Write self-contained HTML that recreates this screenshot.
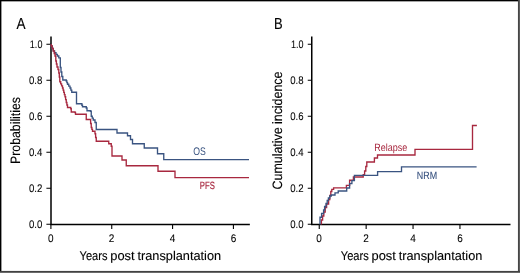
<!DOCTYPE html>
<html lang="en"><head><meta charset="utf-8"><title>Figure</title>
<style>html,body{margin:0;padding:0;background:#fff;}body{width:520px;height:273px;overflow:hidden;}svg{display:block;}text{font-family:"Liberation Sans",sans-serif;text-rendering:geometricPrecision;}</style></head><body>
<svg width="520" height="273" viewBox="0 0 520 273">
<rect x="0" y="0" width="520" height="273" fill="#fff"/>
<rect x="0" y="0" width="520" height="1.35" fill="#000"/>
<rect x="0" y="0" width="1.4" height="273" fill="#000"/>
<rect x="517.95" y="0" width="1.05" height="273" fill="#464646"/>
<rect x="519" y="0" width="1" height="273" fill="#5e5e5e"/>
<rect x="0" y="270.93" width="520" height="1.07" fill="#424242"/>
<rect x="0" y="272" width="520" height="1" fill="#6a6a6a"/>
<g stroke="#000" fill="none">
<path stroke-width="1.5" d="M51.0,36.5 V224.45 H249.85"/>
<path stroke-width="1.1" d="M46.40,44.25 H51.0M46.40,80.25 H51.0M46.40,116.25 H51.0M46.40,152.25 H51.0M46.40,188.25 H51.0M46.40,224.25 H51.0M50.90,224.45 V228.9M111.74,224.45 V228.9M172.58,224.45 V228.9M233.42,224.45 V228.9"/>
</g>
<text transform="translate(42.40,48.20) scale(0.82,1)" font-size="11" text-anchor="end" fill="#000" stroke="#000" stroke-width="0.06">1.0</text>
<text transform="translate(42.40,84.20) scale(0.875,1)" font-size="11" text-anchor="end" fill="#000" stroke="#000" stroke-width="0.06">0.8</text>
<text transform="translate(42.40,120.20) scale(0.875,1)" font-size="11" text-anchor="end" fill="#000" stroke="#000" stroke-width="0.06">0.6</text>
<text transform="translate(42.40,156.20) scale(0.875,1)" font-size="11" text-anchor="end" fill="#000" stroke="#000" stroke-width="0.06">0.4</text>
<text transform="translate(42.40,192.20) scale(0.875,1)" font-size="11" text-anchor="end" fill="#000" stroke="#000" stroke-width="0.06">0.2</text>
<text transform="translate(42.40,228.20) scale(0.875,1)" font-size="11" text-anchor="end" fill="#000" stroke="#000" stroke-width="0.06">0.0</text>
<text transform="translate(50.70,242.00) scale(0.91,1)" font-size="11" text-anchor="middle" fill="#000" stroke="#000" stroke-width="0.06">0</text>
<text transform="translate(111.61,242.00) scale(0.91,1)" font-size="11" text-anchor="middle" fill="#000" stroke="#000" stroke-width="0.06">2</text>
<text transform="translate(172.52,242.00) scale(0.91,1)" font-size="11" text-anchor="middle" fill="#000" stroke="#000" stroke-width="0.06">4</text>
<text transform="translate(233.43,242.00) scale(0.91,1)" font-size="11" text-anchor="middle" fill="#000" stroke="#000" stroke-width="0.06">6</text>
<text y="260.1" font-size="12.8" fill="#000" stroke="#000" stroke-width="0.12"><tspan x="79.56" textLength="27.94" lengthAdjust="spacingAndGlyphs">Years</tspan> <tspan x="110.25" textLength="24.33" lengthAdjust="spacingAndGlyphs">post</tspan> <tspan x="137.50" textLength="83.6" lengthAdjust="spacingAndGlyphs">transplantation</tspan></text>
<text transform="translate(19.70,164.00) rotate(-90)" font-size="13.6" text-anchor="start" fill="#000" stroke="#000" stroke-width="0.12" textLength="67.0" lengthAdjust="spacingAndGlyphs">Probabilities</text>
<text transform="translate(16.50,28.80) scale(0.85,1)" font-size="16" text-anchor="start" fill="#000" stroke="#000" stroke-width="0.12">A</text>
<g stroke="#000" fill="none">
<path stroke-width="1.5" d="M311.75,36.5 V224.45 H510.5"/>
<path stroke-width="1.1" d="M307.75,44.25 H311.75M307.75,80.25 H311.75M307.75,116.25 H311.75M307.75,152.25 H311.75M307.75,188.25 H311.75M307.75,224.25 H311.75M319.25,224.45 V228.9M366.15,224.45 V228.9M413.05,224.45 V228.9M459.95,224.45 V228.9"/>
</g>
<text transform="translate(303.60,48.20) scale(0.82,1)" font-size="11" text-anchor="end" fill="#000" stroke="#000" stroke-width="0.06">1.0</text>
<text transform="translate(303.60,84.20) scale(0.875,1)" font-size="11" text-anchor="end" fill="#000" stroke="#000" stroke-width="0.06">0.8</text>
<text transform="translate(303.60,120.20) scale(0.875,1)" font-size="11" text-anchor="end" fill="#000" stroke="#000" stroke-width="0.06">0.6</text>
<text transform="translate(303.60,156.20) scale(0.875,1)" font-size="11" text-anchor="end" fill="#000" stroke="#000" stroke-width="0.06">0.4</text>
<text transform="translate(303.60,192.20) scale(0.875,1)" font-size="11" text-anchor="end" fill="#000" stroke="#000" stroke-width="0.06">0.2</text>
<text transform="translate(303.60,228.20) scale(0.875,1)" font-size="11" text-anchor="end" fill="#000" stroke="#000" stroke-width="0.06">0.0</text>
<text transform="translate(319.05,242.00) scale(0.91,1)" font-size="11" text-anchor="middle" fill="#000" stroke="#000" stroke-width="0.06">0</text>
<text transform="translate(366.02,242.00) scale(0.91,1)" font-size="11" text-anchor="middle" fill="#000" stroke="#000" stroke-width="0.06">2</text>
<text transform="translate(412.99,242.00) scale(0.91,1)" font-size="11" text-anchor="middle" fill="#000" stroke="#000" stroke-width="0.06">4</text>
<text transform="translate(459.96,242.00) scale(0.91,1)" font-size="11" text-anchor="middle" fill="#000" stroke="#000" stroke-width="0.06">6</text>
<text y="260.1" font-size="12.8" fill="#000" stroke="#000" stroke-width="0.12"><tspan x="340.81" textLength="27.94" lengthAdjust="spacingAndGlyphs">Years</tspan> <tspan x="371.50" textLength="24.33" lengthAdjust="spacingAndGlyphs">post</tspan> <tspan x="398.75" textLength="83.6" lengthAdjust="spacingAndGlyphs">transplantation</tspan></text>
<text transform="translate(281.90,189.40) rotate(-90)" font-size="13.6" text-anchor="start" fill="#000" stroke="#000" stroke-width="0.12" textLength="117.8" lengthAdjust="spacingAndGlyphs">Cumulative incidence</text>
<text transform="translate(274.10,28.80) scale(0.81,1)" font-size="16" text-anchor="start" fill="#000" stroke="#000" stroke-width="0.12">B</text>
<g fill="none" stroke-width="1.35" stroke-linejoin="miter">
<path stroke="#3a5481" d="M51.20,44.00 L51.20,46.00 L52.20,46.00 L52.20,48.50 L53.20,48.50 L53.20,50.80 L54.60,50.80 L54.60,52.60 L56.00,52.60 L56.00,54.30 L57.40,54.30 L57.40,56.00 L58.80,56.00 L58.80,57.80 L60.30,57.80 L60.30,67.50 L61.00,67.50 L61.00,72.00 L61.80,72.00 L61.80,76.50 L62.80,76.50 L62.80,80.00 L66.25,80.00 L66.25,81.00 L66.88,81.00 L66.88,82.62 L67.50,82.62 L67.50,84.25 L68.75,84.25 L68.75,86.12 L70.00,86.12 L70.00,88.00 L70.88,88.00 L70.88,90.12 L71.75,90.12 L71.75,92.25 L75.75,92.25 L76.50,92.25 L76.50,103.75 L81.25,103.75 L81.88,103.75 L81.88,105.25 L82.50,105.25 L82.50,106.75 L86.25,106.75 L86.25,108.00 L87.00,108.00 L87.00,110.75 L90.50,110.75 L90.50,111.25 L91.25,111.25 L91.25,116.25 L92.25,116.25 L92.25,118.12 L93.25,118.12 L93.25,120.00 L95.00,120.00 L95.00,122.50 L96.25,122.50 L96.25,125.00 L96.25,129.50 L117.00,129.50 L117.00,133.00 L126.75,133.00 L127.50,133.00 L127.50,135.75 L130.50,135.75 L130.50,136.25 L130.50,139.50 L132.50,139.50 L132.50,143.75 L144.25,143.75 L144.25,148.00 L157.50,148.00 L157.50,153.75 L163.75,153.75 L163.75,159.55 L249.00,159.55"/>
<path stroke="#a8283f" d="M51.20,44.00 L51.20,46.00 L52.20,46.00 L52.20,48.50 L53.20,48.50 L53.20,51.00 L54.20,51.00 L54.20,53.50 L55.00,53.50 L55.00,56.00 L55.80,56.00 L55.80,61.00 L56.40,61.00 L56.40,64.00 L57.00,64.00 L57.00,67.00 L58.00,67.00 L58.00,69.50 L58.80,69.50 L58.80,73.00 L59.30,73.00 L59.30,77.00 L59.80,77.00 L59.80,81.75 L60.70,81.75 L60.70,83.83 L61.60,83.83 L61.60,85.92 L62.50,85.92 L62.50,88.00 L63.12,88.00 L63.12,90.19 L63.75,90.19 L63.75,92.38 L64.38,92.38 L64.38,94.56 L65.00,94.56 L65.00,96.75 L65.62,96.75 L65.62,99.62 L66.25,99.62 L66.25,102.50 L66.88,102.50 L66.88,105.00 L67.50,105.00 L67.50,107.50 L70.75,107.50 L70.75,108.75 L71.25,108.75 L71.25,112.00 L75.00,112.00 L75.00,112.50 L75.50,112.50 L75.50,114.25 L85.75,114.25 L86.25,114.25 L86.25,119.50 L90.00,119.50 L90.62,119.50 L90.62,123.50 L91.25,123.50 L91.25,127.50 L91.88,127.50 L91.88,129.38 L92.50,129.38 L92.50,131.25 L95.00,131.25 L95.00,133.75 L95.62,133.75 L95.62,137.50 L96.25,137.50 L96.25,141.25 L107.50,141.25 L108.75,141.25 L108.75,143.75 L111.25,143.75 L111.25,146.25 L112.00,146.25 L112.00,156.00 L122.00,156.00 L122.00,160.00 L126.25,160.00 L126.25,165.75 L158.00,165.75 L158.00,171.25 L175.00,171.25 L175.00,177.55 L249.00,177.55"/>
<path stroke="#a8283f" d="M321.40,224.40 L321.40,220.00 L322.60,220.00 L322.60,216.00 L323.80,216.00 L323.80,212.00 L325.20,212.00 L325.20,207.50 L326.60,207.50 L326.60,204.00 L328.60,204.00 L328.60,199.60 L329.80,199.60 L329.80,195.50 L330.80,195.50 L330.80,191.50 L331.80,191.50 L331.80,189.30 L333.60,189.30 L333.60,187.80 L346.40,187.80 L346.40,185.40 L349.60,185.40 L349.60,180.20 L353.40,180.20 L353.40,177.00 L363.20,177.00 L363.20,174.60 L364.60,174.60 L364.60,171.00 L365.80,171.00 L365.80,166.50 L366.80,166.50 L366.80,162.00 L374.40,162.00 L374.40,158.00 L377.50,158.00 L377.50,155.00 L415.00,155.00 L415.00,149.30 L472.50,149.30 L472.50,125.50 L476.90,125.50"/>
<path stroke="#3a5481" d="M320.00,224.40 L320.00,217.20 L321.60,217.20 L321.60,213.50 L323.60,213.50 L323.60,210.00 L324.60,210.00 L324.60,206.50 L326.00,206.50 L326.00,203.50 L327.20,203.50 L327.20,200.50 L328.40,200.50 L328.40,198.00 L329.80,198.00 L329.80,196.00 L331.20,196.00 L331.20,195.00 L335.00,195.00 L335.00,192.90 L338.20,192.90 L338.20,191.00 L346.70,191.00 L346.70,188.00 L349.60,188.00 L349.60,183.60 L351.90,183.60 L351.90,180.60 L354.40,180.60 L354.40,175.30 L377.60,175.30 L377.60,171.60 L401.50,171.60 L401.50,166.80 L476.60,166.80"/>
</g>
<text transform="translate(199.55,154.90) scale(0.79,1)" font-size="11" text-anchor="middle" fill="#3a5481">OS</text>
<text transform="translate(207.30,188.80) scale(0.732,1)" font-size="10.5" text-anchor="middle" fill="#a8283f" stroke="#a8283f" stroke-width="0.18">PFS</text>
<text transform="translate(390.85,150.90) scale(0.856,1)" font-size="10.5" text-anchor="middle" fill="#a8283f">Relapse</text>
<text transform="translate(426.90,178.90) scale(0.85,1)" font-size="10.5" text-anchor="middle" fill="#3a5481" stroke="#3a5481" stroke-width="0.12">NRM</text>
</svg></body></html>
